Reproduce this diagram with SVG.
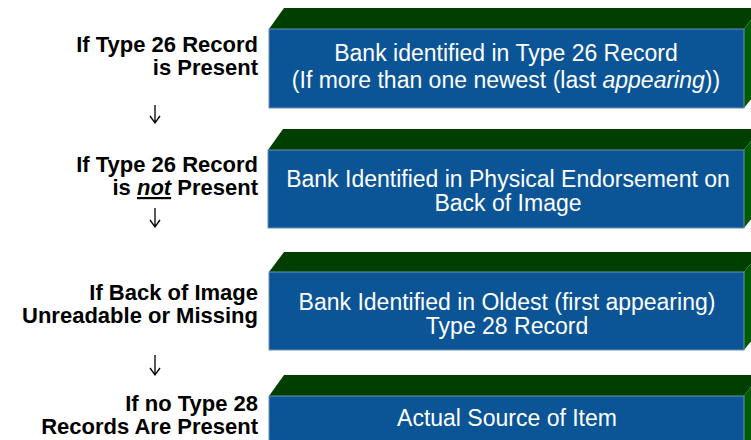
<svg xmlns="http://www.w3.org/2000/svg" width="751" height="440" viewBox="0 0 751 440">
<defs>
<style>
.front{fill:#0b5596;stroke:#6d8fb4;stroke-width:1}
.top{fill:#003f00}
.side{fill:#005c00}
.bt{font-family:"Liberation Sans",Arial,sans-serif;font-size:23px;fill:#ffffff;text-anchor:middle}
.lbl{font-family:"Liberation Sans",Arial,sans-serif;font-size:22px;font-weight:bold;fill:#000000;text-anchor:end}
.arr{fill:none;stroke:#000000;stroke-width:1.3}
</style>
</defs>
<rect width="751" height="440" fill="#ffffff"/>
<g id="box1">
<polygon class="top" points="269,29 284,8 760,8 744,29"/>
<polygon class="side" points="744,29 760,8 760,88 744,108"/>
<rect class="front" x="269" y="29" width="475" height="79"/>
<text class="bt" x="506" y="61">Bank identified in Type 26 Record</text>
<text class="bt" x="506" y="88">(If more than one newest (last <tspan font-style="italic">appearing</tspan>))</text>
</g>
<g id="box2">
<polygon class="top" points="268,150 283,129 760,129 744,150"/>
<polygon class="side" points="744,150 760,129 760,208 744,228"/>
<rect class="front" x="268" y="150" width="476" height="78"/>
<text class="bt" x="508" y="187">Bank Identified in Physical Endorsement on</text>
<text class="bt" x="508" y="211">Back of Image</text>
</g>
<g id="box3">
<polygon class="top" points="269,272 284,252 760,252 744,272"/>
<polygon class="side" points="744,272 760,252 760,330 744,350"/>
<rect class="front" x="269" y="272" width="475" height="78"/>
<text class="bt" x="507" y="310">Bank Identified in Oldest (first appearing)</text>
<text class="bt" x="507" y="334">Type 28 Record</text>
</g>
<g id="box4">
<polygon class="top" points="269,396 284,375 760,375 744,396"/>
<polygon class="side" points="744,396 760,375 760,441 744,441"/>
<rect class="front" x="269" y="396" width="475" height="50"/>
<text class="bt" x="507" y="426">Actual Source of Item</text>
</g>
<g id="label1">
<text class="lbl" x="258" y="52">If Type 26 Record</text>
<text class="lbl" x="258" y="75">is Present</text>
</g>
<g id="label2">
<text class="lbl" x="258" y="172">If Type 26 Record</text>
<text class="lbl" x="258" y="195">is <tspan font-style="italic" text-decoration="underline">not</tspan> Present</text>
</g>
<g id="label3">
<text class="lbl" x="258" y="300">If Back of Image</text>
<text class="lbl" x="258" y="323">Unreadable or Missing</text>
</g>
<g id="label4">
<text class="lbl" x="258" y="411">If no Type 28</text>
<text class="lbl" x="258" y="434">Records Are Present</text>
</g>
<g id="connectors">
<path class="arr" d="M155,105 V123 M150,116 L155,123 L160,116"/>
<path class="arr" d="M155,208 V227 M150,220 L155,227 L160,220"/>
<path class="arr" d="M155,355 V375 M150,368 L155,375 L160,368"/>
</g>
</svg>
